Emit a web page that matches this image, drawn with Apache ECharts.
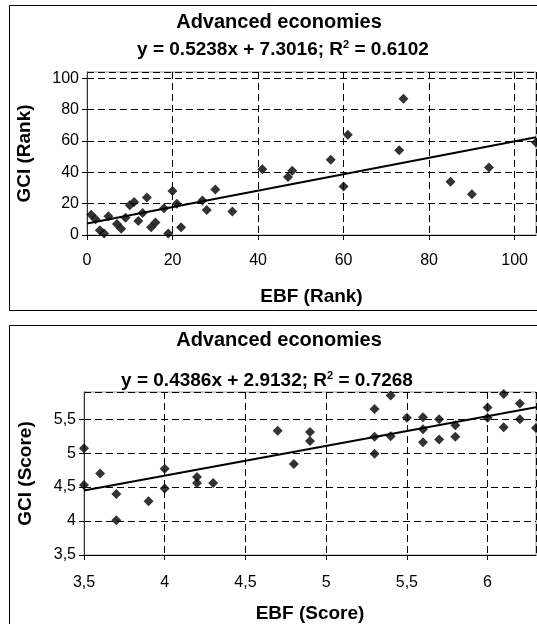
<!DOCTYPE html>
<html>
<head>
<meta charset="utf-8">
<script src="https://cdn.jsdelivr.net/npm/echarts@6/dist/echarts.min.js"></script>
<style>
  html, body { margin: 0; padding: 0; background: #fff; }
  #chart { width: 537px; height: 624px; }
</style>
</head>
<body>
<div id="chart"></div>
<script>
// EBF vs GCI, advanced economies
const rankEbf = [1, 2, 3, 4, 5, 7, 8, 9, 10, 11, 12, 13, 14, 15, 16, 18, 19, 20, 21, 22, 27, 28, 30, 34, 41, 47, 48, 57, 60, 61, 73, 74, 85, 90, 94, 105]
const rankGci = [13, 10, 3, 1, 12, 7, 4, 11, 19, 21, 9, 14, 24, 5, 8, 17, 1, 28, 20, 5, 22, 16, 29, 15, 42, 37, 41, 48, 31, 64, 54, 87, 34, 26, 43, 59]
const rankFit = { slope: 0.5238, intercept: 7.3016, r2: '0.6102' }

const scoreEbf = [3.5, 3.5, 3.6, 3.7, 3.7, 3.9, 4.0, 4.0, 4.2, 4.2, 4.3, 4.7, 4.8, 4.9, 4.9, 5.3, 5.3, 5.3, 5.4, 5.4, 5.5, 5.6, 5.6, 5.6, 5.7, 5.7, 5.8, 5.8, 6.0, 6.0, 6.1, 6.1, 6.2, 6.2, 6.3]
const scoreGci = [5.07, 4.53, 4.70, 4.40, 4.01, 4.29, 4.77, 4.48, 4.65, 4.56, 4.56, 5.33, 4.84, 5.31, 5.18, 5.65, 5.24, 4.99, 5.85, 5.25, 5.52, 5.53, 5.35, 5.16, 5.50, 5.20, 5.41, 5.24, 5.67, 5.52, 5.87, 5.38, 5.73, 5.50, 5.37]
const scoreFit = { slope: 0.4386, intercept: 2.9132, r2: '0.7268' }

const rankX = { min: 0, max: 105, interval: 20 }
const rankY = { min: 0, max: 104, interval: 20 }
const scoreX = { min: 3.5, max: 6.3, interval: 0.5 }
const scoreY = { min: 3.5, max: 5.9, interval: 0.5 }

const font = 'Liberation Sans, Arial, sans-serif'
const comma = v => String(v).replace('.', ',')

function pairs(xs, ys) {
    return xs.map((x, i) => [x, ys[i]])
}
function fitLine(fit, ax) {
    return [ax.min, ax.max].map(x => [x, fit.slope * x + fit.intercept])
}
function eqText(fit) {
    return '{a|y = ' + fit.slope + 'x + ' + fit.intercept + '; R}{s|2}{a| = ' + fit.r2 + '}'
}

const dash = { color: '#000', width: 1, type: [7, 4] }
const nameStyle = { fontFamily: font, fontSize: 19, fontWeight: 'bold', color: '#000' }

function xAxis(i, ax, name, fmt, margin, gap) {
    return {
        gridIndex: i, type: 'value', min: ax.min, max: ax.max, interval: ax.interval,
        name: name, nameLocation: 'middle', nameGap: gap, nameTextStyle: nameStyle,
        axisLine: { lineStyle: { color: '#000', width: 1 } },
        axisTick: { show: true, length: 5, lineStyle: { color: '#000' } },
        axisLabel: { fontFamily: font, fontSize: 16, color: '#000', margin: margin, showMaxLabel: false, formatter: fmt },
        splitLine: { show: true, lineStyle: dash }
    }
}
function yAxis(i, ax, name, fmt, gap) {
    return {
        gridIndex: i, type: 'value', min: ax.min, max: ax.max, interval: ax.interval,
        name: name, nameLocation: 'middle', nameGap: gap, nameTextStyle: nameStyle,
        axisLine: { show: true, lineStyle: { color: '#333', width: 1 } },
        axisTick: { show: true, length: 5, lineStyle: { color: '#000' } },
        axisLabel: { fontFamily: font, fontSize: 16, color: '#000', margin: 8, showMaxLabel: false, formatter: fmt },
        splitLine: { show: true, lineStyle: dash }
    }
}

const eqRich = {
    a: { fontFamily: font, fontSize: 19, fontWeight: 'bold', fill: '#000', color: '#000' },
    s: { fontFamily: font, fontSize: 11, fontWeight: 'bold', fill: '#000', color: '#000', verticalAlign: 'top', padding: [0, 0, 10, 0] }
}

function label(text, x, y, size) {
    return {
        type: 'text', x: x, y: y,
        style: { text: text, fontFamily: font, fontSize: size, fontWeight: 'bold', fill: '#000', textAlign: 'center', textVerticalAlign: 'middle' }
    }
}
function equation(fit, x, y) {
    return {
        type: 'text', x: x, y: y,
        style: { text: eqText(fit), rich: eqRich, textAlign: 'center', textVerticalAlign: 'middle' }
    }
}

const chart = echarts.init(document.getElementById('chart'), null, { renderer: 'canvas' })

chart.setOption({
    backgroundColor: '#fff',
    animation: false,
    graphic: [
        { type: 'rect', shape: { x: 9.5, y: 5.5, width: 540, height: 305 }, style: { fill: null, stroke: '#000', lineWidth: 1 }, z: -1 },
        { type: 'rect', shape: { x: 9.5, y: 325.5, width: 540, height: 320 }, style: { fill: null, stroke: '#000', lineWidth: 1 }, z: -1 },
        label('Advanced economies', 279, 22, 20),
        equation(rankFit, 283, 50),
        label('Advanced economies', 279, 340, 20),
        equation(scoreFit, 267, 381)
    ],
    grid: [
        { left: 87, right: 1, top: 72, bottom: 389, show: true, borderColor: '#999', borderWidth: 1 },
        { left: 84, right: 1, top: 392, bottom: 68, show: true, borderColor: '#999', borderWidth: 1 }
    ],
    xAxis: [
        xAxis(0, rankX, 'EBF (Rank)', null, 18, 52),
        xAxis(1, scoreX, 'EBF (Score)', comma, 20, 49)
    ],
    yAxis: [
        yAxis(0, rankY, 'GCI (Rank)', null, 53),
        yAxis(1, scoreY, 'GCI (Score)', comma, 49)
    ],
    series: [
        {
            type: 'line', xAxisIndex: 0, yAxisIndex: 0, data: fitLine(rankFit, rankX),
            symbol: 'none', lineStyle: { color: '#000', width: 2 }, silent: true
        },
        {
            type: 'scatter', xAxisIndex: 0, yAxisIndex: 0, data: pairs(rankEbf, rankGci),
            symbol: 'diamond', symbolSize: 10, itemStyle: { color: '#000' }
        },
        {
            type: 'line', xAxisIndex: 1, yAxisIndex: 1, data: fitLine(scoreFit, scoreX),
            symbol: 'none', lineStyle: { color: '#000', width: 2 }, silent: true
        },
        {
            type: 'scatter', xAxisIndex: 1, yAxisIndex: 1, data: pairs(scoreEbf, scoreGci),
            symbol: 'diamond', symbolSize: 10, itemStyle: { color: '#000' }
        }
    ]
})
</script>
</body>
</html>
